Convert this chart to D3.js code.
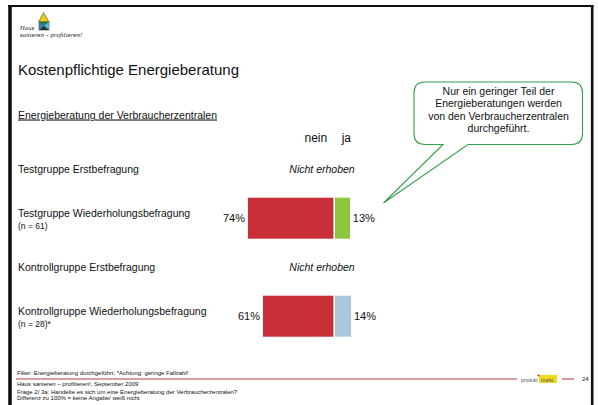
<!DOCTYPE html>
<html>
<head>
<meta charset="utf-8">
<script src="https://cdn.jsdelivr.net/npm/d3@7"></script>
<style>
  body { margin: 0; background: #fff; }
  text { font-family: "Liberation Sans", Arial, sans-serif; fill: #111; }
</style>
</head>
<body>
<script>
// data
var groups = ["Testgruppe Erstbefragung", "Testgruppe Wiederholungsbefragung",
  "Kontrollgruppe Erstbefragung", "Kontrollgruppe Wiederholungsbefragung"];
var groupNotes = [null, "(n = 61)", null, "(n = 28)*"];
var neinValues = [null, 74, null, 61];
var jaValues = [null, 13, null, 14];
var jaColors = ["#8dc63f", "#8dc63f", "#abc5dc", "#abc5dc"];
var calloutLines = ["Nur ein geringer Teil der", "Energieberatungen werden",
  "von den Verbraucherzentralen", "durchgeführt."];
var footerLines = ["Haus sanieren – profitieren!, September 2009",
  "Frage 2/ 3a: Handelte es sich um eine Energieberatung der Verbraucherzentralen?",
  "Differenz zu 100% = keine Angabe/ weiß nicht"];

var width = 598, height = 405;
var center = 334.2; // nein | ja split

var svg = d3.select("body").append("svg")
  .attr("width", width)
  .attr("height", height);

// slide frame
svg.append("line").attr("x1", 8).attr("x2", 593.5).attr("y1", 6).attr("y2", 6)
  .attr("stroke", "#111").attr("stroke-width", 2.2);
svg.append("line").attr("x1", 10).attr("x2", 10).attr("y1", 5).attr("y2", height)
  .attr("stroke", "#111").attr("stroke-width", 3.6);
svg.append("line").attr("x1", 592.2).attr("x2", 592.2).attr("y1", 5).attr("y2", height)
  .attr("stroke", "#111").attr("stroke-width", 2.6);

// logo (house + handwriting)
var logo = svg.append("g");
logo.append("path").attr("d", "M43.5,12.5 L38.5,22 L49,22 Z").attr("fill", "#f2c81c").attr("stroke", "#2a5a2a").attr("stroke-width", 0.6);
logo.append("rect").attr("x", 39).attr("y", 22).attr("width", 10).attr("height", 8).attr("fill", "#2a8a4a").attr("stroke", "#1b3b2b").attr("stroke-width", 0.6);
logo.append("path").attr("d", "M39,22 L44,26 L39,30 Z").attr("fill", "#3c7fc0");
logo.append("path").attr("d", "M49,22 L44,26 L49,30 Z").attr("fill", "#5fb0e0");
logo.append("path").attr("d", "M39,30 L44,26 L49,30 Z").attr("fill", "#1c3a2a");
logo.append("text").attr("x", 20).attr("y", 29.5).text("Haus")
  .style("font-family", "DejaVu Serif").style("font-style", "italic").style("font-size", "5.5px");
logo.append("text").attr("x", 20).attr("y", 37).text("sanieren – profitieren!")
  .style("font-family", "DejaVu Serif").style("font-style", "italic").style("font-size", "5.5px");

// title + subtitle
svg.append("text").attr("x", 18).attr("y", 74.5)
  .style("font-size", "15px").text("Kostenpflichtige Energieberatung");
svg.append("text").attr("x", 18).attr("y", 118.5)
  .style("font-size", "10.5px").style("text-decoration", "underline")
  .text("Energieberatung der Verbraucherzentralen");

// scales
var x = d3.scaleLinear().domain([0, 100]).range([0, 115.5]);
var y = d3.scalePoint().domain(groups).range([169.2, 316.2]);
var barH = 41, gap = 0.8;

// column headers
svg.append("text").attr("x", center - 7).attr("y", 142).attr("text-anchor", "end")
  .style("font-size", "12px").text("nein");
svg.append("text").attr("x", center + 7.5).attr("y", 142)
  .style("font-size", "12px").text("ja");

var rows = svg.selectAll(".row")
  .data(groups.map(function (g, i) {
    return { name: g, note: groupNotes[i], nein: neinValues[i], ja: jaValues[i], color: jaColors[i] };
  }))
  .enter().append("g")
  .attr("class", "row")
  .attr("transform", function (d) { return "translate(0," + y(d.name) + ")"; });

rows.append("text")
  .attr("x", 18)
  .attr("y", function (d) { return d.note ? -1 : 3.5; })
  .style("font-size", "10.5px")
  .text(function (d) { return d.name; });

rows.filter(function (d) { return d.note; }).append("text")
  .attr("x", 18).attr("y", 11)
  .style("font-size", "8.5px")
  .text(function (d) { return d.note; });

rows.filter(function (d) { return d.nein === null; }).append("text")
  .attr("x", 322).attr("y", 3.5).attr("text-anchor", "middle")
  .style("font-size", "10.5px").style("font-style", "italic")
  .text("Nicht erhoben");

var bars = rows.filter(function (d) { return d.nein !== null; });

bars.append("rect")
  .attr("x", function (d) { return center - gap - x(d.nein); })
  .attr("y", -barH / 2)
  .attr("width", function (d) { return x(d.nein); })
  .attr("height", barH)
  .attr("fill", "#c92f38");

bars.append("rect")
  .attr("x", center + gap)
  .attr("y", -barH / 2)
  .attr("width", function (d) { return x(d.ja); })
  .attr("height", barH)
  .attr("fill", function (d) { return d.color; });

bars.append("text")
  .attr("x", function (d) { return center - gap - x(d.nein) - 3; })
  .attr("y", 4)
  .attr("text-anchor", "end")
  .style("font-size", "11px")
  .text(function (d) { return d.nein + "%"; });

bars.append("text")
  .attr("x", function (d) { return center + gap + x(d.ja) + 2.8; })
  .attr("y", 4)
  .style("font-size", "11px")
  .text(function (d) { return d.ja + "%"; });

// callout bubble
var bx0 = 414, bx1 = 582.5, by0 = 82, by1 = 144.5, r = 11;
var p = d3.path();
p.moveTo(bx0 + r, by0);
p.lineTo(bx1 - r, by0);
p.quadraticCurveTo(bx1, by0, bx1, by0 + r);
p.lineTo(bx1, by1 - r);
p.quadraticCurveTo(bx1, by1, bx1 - r, by1);
p.lineTo(468, by1);
p.lineTo(383.5, 203);
p.lineTo(443, by1);
p.lineTo(bx0 + r, by1);
p.quadraticCurveTo(bx0, by1, bx0, by1 - r);
p.lineTo(bx0, by0 + r);
p.quadraticCurveTo(bx0, by0, bx0 + r, by0);
p.closePath();
svg.append("path").attr("d", p.toString())
  .attr("fill", "#fff").attr("stroke", "#35a04e").attr("stroke-width", 1.1);

svg.append("g").selectAll("text")
  .data(calloutLines)
  .enter().append("text")
  .attr("x", 498.5)
  .attr("y", function (d, i) { return 95 + i * 12.4; })
  .attr("text-anchor", "middle")
  .style("font-size", "10.5px")
  .text(function (d) { return d; });

// footer
svg.append("text").attr("x", 17).attr("y", 374.5)
  .style("font-size", "6px").text("Filter: Energieberatung durchgeführt; *Achtung: geringe Fallzahl!");
svg.append("line").attr("x1", 16).attr("x2", 517).attr("y1", 379).attr("y2", 379)
  .attr("stroke", "#d07c82").attr("stroke-width", 1.6);
svg.append("line").attr("x1", 562).attr("x2", 574).attr("y1", 379).attr("y2", 379)
  .attr("stroke", "#d07c82").attr("stroke-width", 1.6);
svg.append("rect").attr("x", 539).attr("y", 375).attr("width", 18).attr("height", 8)
  .attr("fill", "#f2d81c");
svg.append("circle").attr("cx", 538.5).attr("cy", 375.5).attr("r", 1).attr("fill", "#d0202a");
svg.append("text").attr("x", 521).attr("y", 381.5)
  .style("font-size", "5px").style("fill", "#555").text("produkt");
svg.append("text").attr("x", 541).attr("y", 381.5)
  .style("font-size", "5px").style("fill", "#555").text("markt");
svg.append("text").attr("x", 582).attr("y", 381)
  .style("font-size", "6px").text("24");

svg.append("g").selectAll("text")
  .data(footerLines)
  .enter().append("text")
  .attr("x", 17)
  .attr("y", function (d, i) { return [386, 393.5, 399.5][i]; })
  .style("font-size", "6px")
  .text(function (d) { return d; });
</script>
</body>
</html>
